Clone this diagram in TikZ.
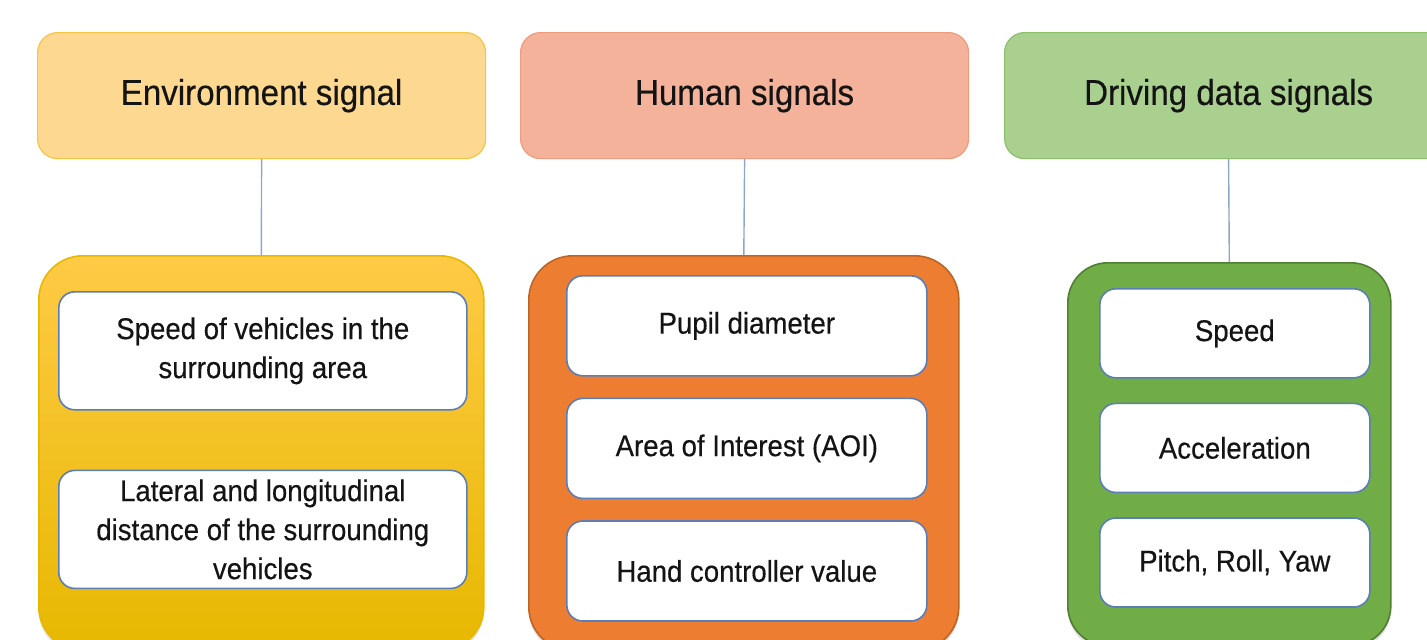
\documentclass[tikz,border=0pt]{standalone}
\usepackage{fontspec}
\setmainfont{Liberation Sans}[FakeStretch=0.92, FakeBold=0.4]
\usetikzlibrary{positioning,shadows}

\definecolor{envhead}{HTML}{FDD891}
\definecolor{envheadline}{HTML}{F6C545}
\definecolor{envtop}{HTML}{FFCA45}
\definecolor{envmid}{HTML}{FFC000}
\definecolor{envbot}{HTML}{E6B800}
\definecolor{humhead}{HTML}{F4B29A}
\definecolor{humheadline}{HTML}{EE9C7D}
\definecolor{humfill}{HTML}{ED7D31}
\definecolor{humline}{HTML}{BE6424}
\definecolor{drvhead}{HTML}{A9D08E}
\definecolor{drvheadline}{HTML}{8DBF6D}
\definecolor{drvfill}{HTML}{70AD47}
\definecolor{drvline}{HTML}{507E32}
\definecolor{itemline}{HTML}{5B7DB8}
\definecolor{linkblue}{HTML}{8EA6CA}
\definecolor{ink}{HTML}{141414}

\begin{document}
\begin{tikzpicture}[x=0.5pt, y=-0.5pt, text=ink,
  head/.style={draw, rounded corners=10pt, anchor=north west, minimum width=224pt, minimum height=63pt, line width=0.6pt, font=\fontsize{18}{22}\selectfont},
  group/.style={anchor=north west, rounded corners=22pt, line width=0.8pt, drop shadow={opacity=0.22, shadow xshift=0pt, shadow yshift=-2pt}},
  item/.style={draw=itemline, fill=white, rounded corners=8pt, line width=0.8pt, align=center, font=\fontsize{15}{19.5}\selectfont},
  link/.style={draw=linkblue, line width=0.7pt}]
  \useasboundingbox (0,0) rectangle (1427,639);
  \clip (0,0) rectangle (1427,639);

  % headers
  \node[head, fill=envhead, draw=envheadline] (envhd) at (37,32) {Environment signal};
  \node[head, fill=humhead, draw=humheadline] (humhd) at (520,32) {Human signals};
  \node[head, fill=drvhead, draw=drvheadline] (drvhd) at (1004,32) {Driving data signals};

  % groups
  \node[group, draw=envbot, top color=envtop, middle color=envmid, bottom color=envbot, minimum width=222.5pt, minimum height=197.5pt] (envgrp) at (38,255) {};
  \node[group, draw=humline, fill=humfill, minimum width=215pt, minimum height=197.5pt] (humgrp) at (528,255) {};
  \node[group, draw=drvline, fill=drvfill, rounded corners=20pt, minimum width=161.5pt, minimum height=191.5pt] (drvgrp) at (1067,262) {};

  \draw[link] (envhd.south) -- (envgrp.north);
  \draw[link] (humhd.south) -- (humgrp.north);
  \draw[link] (drvhd.south) -- (drvgrp.north);

  % environment items
  \node[item, anchor=north west, minimum width=204pt, minimum height=59pt] (envspd) at (58,291) {Speed of vehicles in the\\surrounding area};
  \node[item, minimum width=204pt, minimum height=59pt, below=29.5pt of envspd] (envdist) {Lateral and longitudinal\\distance of the surrounding\\vehicles};

  % human items
  \node[item, anchor=north west, minimum width=180pt, minimum height=50pt] (pupil) at (566,275) {Pupil diameter};
  \node[item, minimum width=180pt, minimum height=50pt, below=10.5pt of pupil] (aoi) {Area of Interest (AOI)};
  \node[item, minimum width=180pt, minimum height=50pt, below=10.5pt of aoi] (hand) {Hand controller value};

  % driving items
  \node[item, anchor=north west, minimum width=135pt, minimum height=44.5pt] (speed) at (1099,288) {Speed};
  \node[item, minimum width=135pt, minimum height=44.5pt, below=12pt of speed] (accel) {Acceleration};
  \node[item, minimum width=135pt, minimum height=44.5pt, below=12pt of accel] (pry) {Pitch, Roll, Yaw};
\end{tikzpicture}
\end{document}
